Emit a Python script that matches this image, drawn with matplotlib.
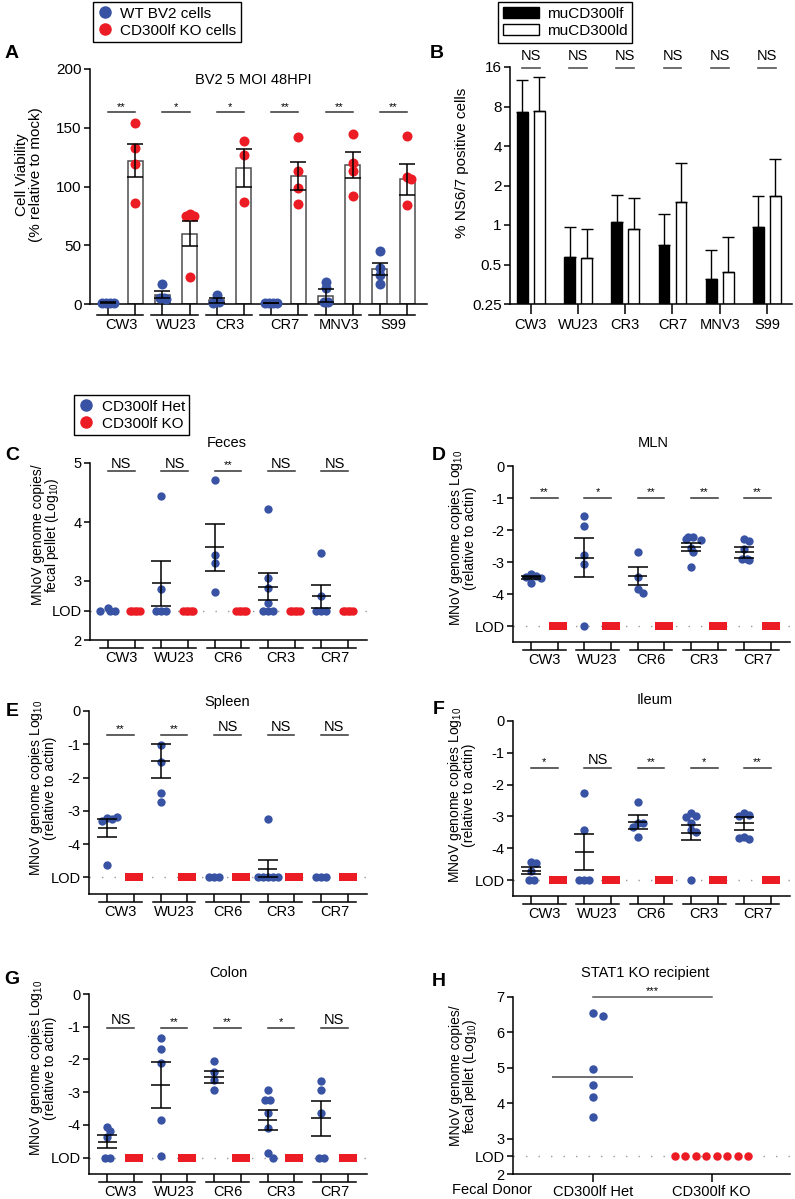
import numpy as np
import matplotlib.pyplot as plt
from matplotlib.transforms import ScaledTranslation
from matplotlib.lines import Line2D
from matplotlib.patches import Patch
from matplotlib.ticker import NullLocator

plt.rcParams['font.family'] = ['Liberation Sans', 'DejaVu Sans']
plt.rcParams['mathtext.fontset'] = 'custom'
plt.rcParams['mathtext.rm'] = 'Liberation Sans'
plt.rcParams['font.size'] = 10.5
plt.rcParams['axes.linewidth'] = 1.1
plt.rcParams['xtick.major.width'] = 1.1
plt.rcParams['ytick.major.width'] = 1.1
plt.rcParams['ytick.major.size'] = 4.5
plt.rcParams['ytick.major.pad'] = 1.5

BLUE = '#3953a4'
RED = '#ec1c24'
W, H = 795, 1199

# ---------------- data ----------------
# A: cell viability, BV2 cells
a_strains = ['CW3', 'WU23', 'CR3', 'CR7', 'MNV3', 'S99']
a_wt_pts = [[1, 1, 1, 1], [17, 5, 4, 5], [8, 2, 2, 1], [1, 1, 1, 1], [14, 19, 2, 2], [45, 31, 25, 17]]
a_ko_pts = [[154, 133, 119, 86], [77, 75, 75, 23], [139, 127, 87], [142, 113, 99, 85],
            [145, 120, 113, 92], [143, 108, 106, 84]]
a_wt_mean = [1, 8, 3, 1, 7, 30]
a_wt_sem = [0.3, 3, 1.8, 0.2, 5.5, 5]
a_ko_mean = [122, 60, 116, 109, 118, 106]
a_ko_sem = [14, 11, 16, 12, 11, 13]
a_sig = ['**', '*', '*', '**', '**', '**']

# B: % NS6/7 positive cells
b_strains = ['CW3', 'WU23', 'CR3', 'CR7', 'MNV3', 'S99']
b_lf = [7.3, 0.57, 1.06, 0.70, 0.385, 0.96]
b_lf_sd = [5.5, 0.40, 0.63, 0.51, 0.265, 0.71]
b_ld = [7.4, 0.56, 0.93, 1.5, 0.44, 1.67]
b_ld_sd = [6.0, 0.38, 0.67, 1.48, 0.375, 1.54]
b_sig = ['NS'] * 6

dot_strains = ['CW3', 'WU23', 'CR6', 'CR3', 'CR7']

# C: feces
c_het = [[2.55, 2.5, 2.5, 2.5], [4.44, 2.86, 2.5, 2.5, 2.5], [4.71, 3.44, 3.31, 2.81],
         [4.22, 3.05, 2.88, 2.63, 2.5, 2.5, 2.5], [3.47, 2.75, 2.5, 2.5, 2.5]]
c_ko = [[2.5] * 5, [2.5] * 5, [2.5] * 5, [2.5] * 5, [2.5] * 5]
c_mean = [2.51, 2.96, 3.57, 2.90, 2.74]
c_sem = [0, 0.38, 0.40, 0.23, 0.19]
c_sig = ['NS', 'NS', '**', 'NS', 'NS']

# D: MLN
d_het = [[-3.38, -3.45, -3.47, -3.5, -3.65], [-1.56, -1.87, -2.77, -3.05, -5], [-2.7, -3.48, -3.83, -3.96],
         [-2.22, -2.22, -2.28, -2.3, -2.55, -2.7, -3.15], [-2.27, -2.35, -2.6, -2.9, -2.95, -2.9]]
d_ko = [[-5] * 5, [-5] * 5, [-5] * 5, [-5] * 5, [-5] * 5]
d_mean = [-3.48, -2.86, -3.44, -2.53, -2.7]
d_sem = [0.05, 0.6, 0.29, 0.12, 0.16]
d_sig = ['**', '*', '**', '**', '**']

# E: spleen
e_het = [[-3.22, -3.25, -3.32, -3.2, -4.62], [-1.02, -1.52, -2.47, -2.72], [-5, -5, -5],
         [-3.24, -5, -5, -5, -5, -5], [-5, -5, -5]]
e_ko = [[-5] * 5, [-5] * 5, [-5] * 5, [-5] * 5, [-5] * 5]
e_mean = [-3.53, -1.5, -5, -4.74, -5]
e_sem = [0.27, 0.52, 0, 0.26, 0]
e_sig = ['**', '**', 'NS', 'NS', 'NS']

# F: ileum
f_het = [[-4.42, -4.45, -4.7, -5, -5], [-2.25, -3.41, -5, -5, -5], [-2.56, -3.19, -3.22, -3.32, -3.64],
         [-2.9, -3.0, -3.03, -3.22, -3.41, -3.48, -5], [-2.88, -2.96, -3.0, -3.64, -3.72, -3.69]]
f_ko = [[-5] * 5, [-5] * 5, [-5] * 5, [-5] * 5, [-5] * 5]
f_mean = [-4.7, -4.12, -3.17, -3.51, -3.22]
f_sem = [0.1, 0.57, 0.22, 0.24, 0.2]
f_sig = ['*', 'NS', '**', '*', '**']

# G: colon
g_het = [[-4.05, -4.19, -4.36, -5, -5], [-1.35, -1.69, -2.12, -3.85, -4.94], [-2.05, -2.37, -2.63, -2.93],
         [-2.93, -3.24, -3.24, -3.63, -4.1, -4.87, -5], [-2.66, -2.93, -3.65, -5, -5]]
g_ko = [[-5] * 5, [-5] * 5, [-5] * 5, [-5] * 5, [-5] * 5]
g_mean = [-4.51, -2.78, -2.53, -3.85, -3.8]
g_sem = [0.2, 0.69, 0.18, 0.32, 0.53]
g_sig = ['NS', '**', '**', '*', 'NS']

# H: STAT1 KO recipient
h_groups = ['CD300lf Het', 'CD300lf KO']
h_het = [6.54, 6.46, 4.96, 4.52, 4.17, 3.62]
h_ko = [2.5, 2.5, 2.5, 2.5, 2.5, 2.5, 2.5, 2.5]


# ---------------- helpers ----------------
fig = plt.figure(figsize=(W / 100, H / 100), dpi=100)


def rect(x0, y0, x1, y1):
    return [x0 / W, 1 - y1 / H, (x1 - x0) / W, (y1 - y0) / H]


def ftext(x, y, s, **kw):
    fig.text(x / W, 1 - y / H, s, ha=kw.pop('ha', 'center'), va=kw.pop('va', 'center'), **kw)


def spread(ax, x0, vals, md):
    # simple beeswarm, md = min distance between centres in pixels
    ys = ax.transData.transform(np.column_stack([np.full(len(vals), x0), vals]))[:, 1]
    cands = [0.0]
    for k in range(1, 40):
        cands += [k * md / 2, -k * md / 2]
    placed, offs = [], []
    for y in ys:
        for c in cands:
            if all((c - px) ** 2 + (y - py) ** 2 >= md ** 2 - 1e-6 for px, py in placed):
                break
        placed.append((c, y))
        offs.append(c)
    offs = np.array(offs)
    v = np.array(vals)
    for u in np.unique(v):
        m = v == u
        if m.sum() > 1:
            offs[m] -= offs[m].mean()
    ppu = ax.transData.transform((1, 0))[0] - ax.transData.transform((0, 0))[0]
    return x0 + offs / ppu


def group_axis(ax, labels, tick_pt, lo=-0.33, hi=1.3):
    n = len(labels)
    ax.set_xticks(range(2 * n))
    ax.set_xticklabels([])
    ax.tick_params(axis='x', length=tick_pt, width=1.1)
    tl = ax.get_xaxis_transform() + ScaledTranslation(0, -tick_pt / 72, fig.dpi_scale_trans)
    tt = ax.get_xaxis_transform() + ScaledTranslation(0, -(tick_pt + 1.8) / 72, fig.dpi_scale_trans)
    for g, lab in enumerate(labels):
        ax.plot([2 * g + lo, 2 * g + hi], [0, 0], transform=tl, color='k', lw=1.1, clip_on=False)
        ax.text(2 * g + 0.5, 0, lab, transform=tt, ha='center', va='top', fontsize=10.5)


def sig(ax, x0, x1, y, s, color='#333333'):
    ax.plot([x0, x1], [y, y], color=color, lw=1.1, clip_on=False)
    fs = 8 if '*' in s else 10.5
    ax.annotate(s, xy=((x0 + x1) / 2, y), xytext=(0, 0.5), textcoords='offset points',
                ha='center', va='bottom', fontsize=fs, annotation_clip=False)


def clean(ax):
    for sp in ['top', 'right']:
        ax.spines[sp].set_visible(False)


def dot_panel(r, het, ko, mean, sem, sigs, sig_y, yticks, ylabs, ylim, lod, ko_marker):
    ax = fig.add_axes(r)
    clean(ax)
    ax.set_xlim(-0.68, 9.72)
    ax.set_ylim(*ylim)
    ax.set_yticks(yticks)
    ax.set_yticklabels(ylabs, fontsize=10.5)
    ax.axhline(lod, color='#9a9a9a', lw=1, ls=(0, (1, 8)), zorder=0)
    for g in range(len(het)):
        xh, xk = 2 * g, 2 * g + 1
        ax.scatter(spread(ax, xh, het[g], 5), het[g], s=36, color=BLUE, lw=0, zorder=3, clip_on=False)
        ax.scatter(spread(ax, xk, ko[g], 2.5), ko[g], s=36, color=RED, lw=0, marker=ko_marker,
                   zorder=3, clip_on=False)
        if sem[g] > 0:
            ax.hlines(mean[g], xh - 0.36, xh + 0.36, color='k', lw=1.1, zorder=4)
            ax.errorbar(xh, mean[g], yerr=sem[g], fmt='none', ecolor='k', elinewidth=1.1,
                        capsize=7, capthick=1.1, zorder=4)
        sig(ax, xh, xk, sig_y, sigs[g])
    group_axis(ax, dot_strains, 5.8, -0.3, 1.3)
    return ax


# ---------------- A ----------------
axA = fig.add_axes(rect(90, 69, 427, 304))
clean(axA)
axA.set_xlim(-0.66, 11.73)
axA.set_ylim(0, 200)
axA.set_yticks([0, 50, 100, 150, 200])
axA.tick_params(axis='y', labelsize=11)
for g in range(len(a_strains)):
    xw, xk = 2 * g, 2 * g + 1
    axA.bar([xw, xk], [a_wt_mean[g], a_ko_mean[g]], width=0.55, facecolor='white',
            edgecolor='#4d4d4d', lw=1.1, zorder=1)
    axA.scatter(spread(axA, xw, a_wt_pts[g], 4), a_wt_pts[g], s=52, color=BLUE, lw=0, zorder=3, clip_on=False)
    axA.scatter(spread(axA, xk, a_ko_pts[g], 4), a_ko_pts[g], s=52, color=RED, lw=0, zorder=3, clip_on=False)
    axA.errorbar([xw, xk], [a_wt_mean[g], a_ko_mean[g]], yerr=[a_wt_sem[g], a_ko_sem[g]], fmt='none',
                 ecolor='k', elinewidth=1.1, capsize=5.5, capthick=1.1, zorder=4)
    sig(axA, xw, xk, 163, a_sig[g])
group_axis(axA, a_strains, 8, -0.4, 1.3)
ftext(253, 80, 'BV2 5 MOI 48HPI', fontsize=10.5)
ftext(29, 175, 'Cell Viability\n(% relative to mock)', rotation=90, fontsize=11, linespacing=1.0)

# ---------------- B ----------------
axB = fig.add_axes(rect(510, 67, 792, 304))
clean(axB)
xb = np.arange(len(b_strains))
axB.set_yscale('log', base=2)
axB.bar(xb - 0.18, np.array(b_lf) - 0.25, bottom=0.25, width=0.23, color='k', edgecolor='k', lw=1)
axB.bar(xb + 0.18, np.array(b_ld) - 0.25, bottom=0.25, width=0.23, color='white', edgecolor='k', lw=1)
axB.errorbar(xb - 0.18, b_lf, yerr=[np.zeros(len(b_lf)), b_lf_sd], fmt='none', ecolor='k',
             elinewidth=1, capsize=4, capthick=1)
axB.errorbar(xb + 0.18, b_ld, yerr=[np.zeros(len(b_ld)), b_ld_sd], fmt='none', ecolor='k',
             elinewidth=1, capsize=4, capthick=1)
axB.set_ylim(0.25, 16)
axB.set_xlim(-0.44, 5.53)
axB.set_yticks([0.25, 0.5, 1, 2, 4, 8, 16])
axB.set_yticklabels(['0.25', '0.5', '1', '2', '4', '8', '16'], fontsize=11)
axB.yaxis.set_minor_locator(NullLocator())
axB.set_xticks(xb)
axB.set_xticklabels(b_strains, fontsize=10.5)
axB.tick_params(axis='x', length=7, pad=3)
for i in range(len(b_strains)):
    axB.plot([i - 0.19, i + 0.19], [15.7, 15.7], color='#555555', lw=1.2, clip_on=False)
    axB.text(i, 17.3, b_sig[i], ha='center', va='bottom', fontsize=10.5)
ftext(462, 163, '% NS6/7 positive cells', rotation=90, fontsize=11)

# ---------------- C-G ----------------
lod_ticks = [-5, -4, -3, -2, -1, 0]
lod_labs = ['LOD', '-4', '-3', '-2', '-1', '0']
dot_panel(rect(90, 463, 367, 640), c_het, c_ko, c_mean, c_sem, c_sig, 4.86,
          [2, 2.5, 3, 4, 5], ['2', 'LOD', '3', '4', '5'], (2, 5), 2.5, 'o')
dot_panel(rect(513, 466, 790, 642), d_het, d_ko, d_mean, d_sem, d_sig, -1.0,
          lod_ticks, lod_labs, (-5.5, 0), -5, 's')
dot_panel(rect(89, 711, 367, 894), e_het, e_ko, e_mean, e_sem, e_sig, -0.72,
          lod_ticks, lod_labs, (-5.5, 0), -5, 's')
dot_panel(rect(513, 721, 790, 896), f_het, f_ko, f_mean, f_sem, f_sig, -1.48,
          lod_ticks, lod_labs, (-5.5, 0), -5, 's')
dot_panel(rect(89, 994, 367, 1174), g_het, g_ko, g_mean, g_sem, g_sig, -1.03,
          lod_ticks, lod_labs, (-5.5, 0), -5, 's')

ylab_copies = 'MNoV genome copies Log$_{\\mathregular{10}}$\n(relative to actin)'
ylab_pellet = 'MNoV genome copies/\nfecal pellet (Log$_{\\mathregular{10}}$)'
ylab_kw = dict(rotation=90, fontsize=10, linespacing=0.9)
ftext(46, 535, ylab_pellet, **ylab_kw)
ftext(462, 538, ylab_copies, **ylab_kw)
ftext(42, 788, ylab_copies, **ylab_kw)
ftext(461, 795, ylab_copies, **ylab_kw)
ftext(42, 1068, ylab_copies, **ylab_kw)
ftext(464, 1076, ylab_pellet, **ylab_kw)

ftext(227, 443, 'Feces')
ftext(653, 443, 'MLN')
ftext(227, 702, 'Spleen')
ftext(655, 700, 'Ileum')
ftext(228, 973, 'Colon')
ftext(645, 973, 'STAT1 KO recipient')

# ---------------- H ----------------
axH = fig.add_axes(rect(513, 997, 790, 1174))
clean(axH)
axH.set_xlim(-0.67, 1.66)
axH.set_ylim(2, 7)
axH.set_yticks([2, 2.5, 3, 4, 5, 6, 7])
axH.set_yticklabels(['2', 'LOD', '3', '4', '5', '6', '7'], fontsize=10.5)
axH.axhline(2.5, color='#9a9a9a', lw=1, ls=(0, (1, 8)), zorder=0)
axH.scatter(spread(axH, 0, h_het, 10.5), h_het, s=37, color=BLUE, lw=0, zorder=3)
axH.scatter(spread(axH, 1, h_ko, 10.5), h_ko, s=37, color=RED, lw=0, zorder=3)
axH.hlines(np.median(h_het), -0.34, 0.34, color='#555555', lw=1.2, zorder=4)
sig(axH, 0, 1, 7.0, '***', color='#555555')
axH.set_xticks([0, 1])
axH.set_xticklabels(h_groups, fontsize=10.5)
axH.tick_params(axis='x', length=6, pad=2)
ftext(492, 1190, 'Fecal Donor', fontsize=10.5)

# ---------------- legends ----------------
leg_kw = dict(loc='upper left', frameon=True, fancybox=False, edgecolor='k', framealpha=1,
              borderpad=0.3, borderaxespad=0, handletextpad=0.5, labelspacing=0.2, fontsize=11)
la = fig.legend([Line2D([], [], marker='o', ls='none', color=BLUE, markersize=8),
                 Line2D([], [], marker='o', ls='none', color=RED, markersize=8)],
                ['WT BV2 cells', 'CD300lf KO cells'], bbox_to_anchor=(93 / W, 1 - 2 / H),
                handlelength=1.0, **leg_kw)
lb = fig.legend([Patch(facecolor='k', edgecolor='k'), Patch(facecolor='white', edgecolor='k')],
                ['muCD300lf', 'muCD300ld'], bbox_to_anchor=(498 / W, 1 - 2 / H),
                handlelength=2.4, handleheight=0.8, **leg_kw)
lc = fig.legend([Line2D([], [], marker='o', ls='none', color=BLUE, markersize=8),
                 Line2D([], [], marker='o', ls='none', color=RED, markersize=8)],
                ['CD300lf Het', 'CD300lf KO'], bbox_to_anchor=(74 / W, 1 - 395 / H),
                handlelength=1.0, **leg_kw)
for lg in (la, lb, lc):
    lg.get_frame().set_linewidth(1.0)

# panel letters
for s, x, y in [('A', 12, 54), ('B', 437, 53), ('C', 12, 455), ('D', 439, 455),
                ('E', 12, 712), ('F', 439, 710), ('G', 12, 980), ('H', 439, 982)]:
    ftext(x, y, s, fontsize=14, fontweight='bold')

fig.savefig('out.png', dpi=100)
